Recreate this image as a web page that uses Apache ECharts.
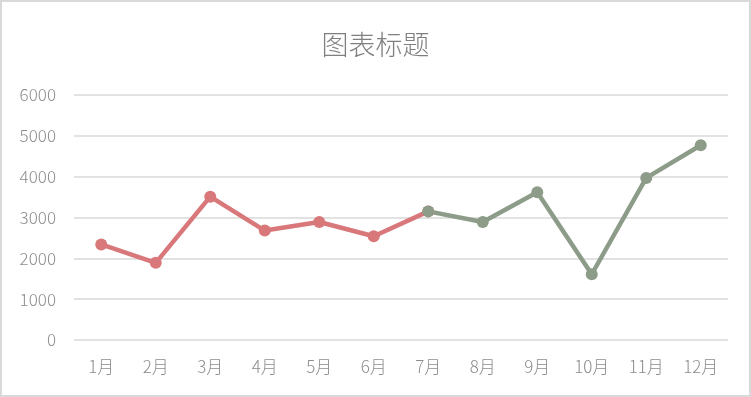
<!DOCTYPE html>
<html>
<head>
<meta charset="utf-8">
<script src="https://cdn.jsdelivr.net/npm/echarts@6/dist/echarts.min.js"></script>
<style>
  html, body { margin: 0; padding: 0; background: #fff; }
  #chart {
    width: 747px;
    height: 393px;
    border: 2px solid #d9d9d9;
  }
</style>
</head>
<body>
<div id="chart"></div>
<script>
const months = ['1月', '2月', '3月', '4月', '5月', '6月', '7月', '8月', '9月', '10月', '11月', '12月']
// 前半年（红线）和后半年（绿线），7月两条线相接
const firstHalf = [2340, 1890, 3510, 2680, 2890, 2540, 3150, null, null, null, null, null]
const secondHalf = [null, null, null, null, null, null, 3150, 2890, 3620, 1610, 3970, 4770]
const yTicks = { min: 0, max: 6000, interval: 1000 }

const chart = echarts.init(document.getElementById('chart'))
const font = '"Noto Sans CJK SC", "Noto Sans", sans-serif'

const lineSeries = (data, color) => ({
  type: 'line',
  data: data,
  symbol: 'circle',
  symbolSize: 12,
  connectNulls: false,
  lineStyle: { width: 4.5, color: color },
  itemStyle: { color: color },
  animation: false
})

chart.setOption({
  title: {
    text: '图表标题',
    left: 'center',
    top: 24,
    textStyle: {
      color: '#7f7f7f',
      fontSize: 27,
      fontWeight: 300,
      fontFamily: font
    }
  },
  grid: {
    left: 72,
    right: 21,
    top: 93,
    bottom: 55
  },
  xAxis: {
    type: 'category',
    data: months,
    boundaryGap: true,
    axisLine: { show: false },
    axisTick: { show: false },
    axisLabel: {
      color: '#8c8c8c',
      fontSize: 17,
      fontWeight: 300,
      fontFamily: font,
      margin: 18
    }
  },
  yAxis: {
    type: 'value',
    min: yTicks.min,
    max: yTicks.max,
    interval: yTicks.interval,
    axisLine: { show: false },
    axisTick: { show: false },
    axisLabel: {
      color: '#8c8c8c',
      fontSize: 17,
      fontWeight: 300,
      fontFamily: font,
      margin: 18,
      formatter: v => String(v)
    },
    splitLine: { lineStyle: { color: '#d9d9d9', width: 1.5 } }
  },
  series: [
    lineSeries(firstHalf, '#d9787a'),
    lineSeries(secondHalf, '#8d9c89')
  ]
})
</script>
</body>
</html>
